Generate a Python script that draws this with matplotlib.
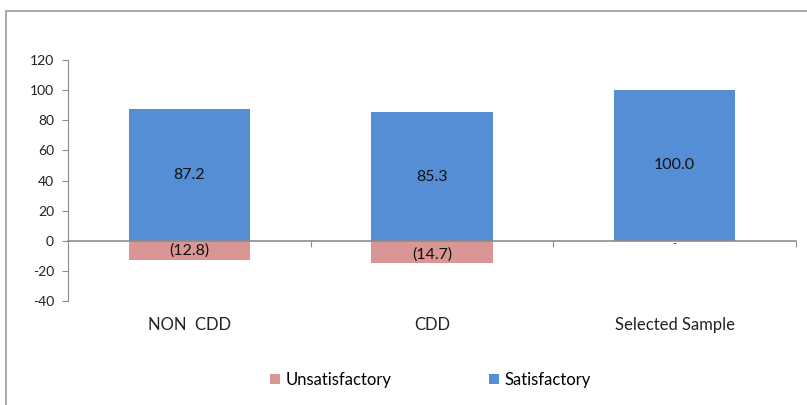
import matplotlib
matplotlib.use("Agg")
import matplotlib.pyplot as plt
from matplotlib.patches import Rectangle
from matplotlib.transforms import blended_transform_factory

categories = ["NON  CDD", "CDD", "Selected Sample"]
satisfactory = [87.2, 85.3, 100.0]
unsatisfactory = [-12.8, -14.7, 0.0]
yticks = [-40, -20, 0, 20, 40, 60, 80, 100, 120]

blue = "#558ED5"
pink = "#D99694"
gray = "#8C8C8C"
plt.rcParams['font.family'] = ['Lato', 'DejaVu Sans']

W, H = 807, 405
fig = plt.figure(figsize=(W/100, H/100), dpi=100)

# outer chart frame
fig.patches.append(Rectangle((6/W, -0.2), 1.2, 1.2 - 11/H, transform=fig.transFigure,
                             fill=False, edgecolor="#999999", linewidth=1.2))

ax = fig.add_axes([68/W, 1-301/H, (796-68)/W, (301-60)/H])
x = list(range(len(categories)))
ax.bar(x, satisfactory, width=0.5, color=blue, label="Satisfactory", zorder=2)
ax.bar(x, unsatisfactory, width=0.5, color=pink, label="Unsatisfactory", zorder=2)

ax.set_xlim(-0.5, 2.5)
ax.set_ylim(-40, 120)
ax.set_yticks(yticks)
ax.set_yticklabels([str(t) for t in yticks], fontsize=10, color="#222222")
for s in ["top", "right"]:
    ax.spines[s].set_visible(False)
ax.spines['left'].set_color(gray)
ax.spines['bottom'].set_position(('data', 0))
ax.spines['bottom'].set_color(gray)
ax.spines['bottom'].set_linewidth(1.2)
ax.spines['bottom'].set_zorder(3)
ax.set_xticks([-0.5, 0.5, 1.5, 2.5])
ax.set_xticklabels([])
ax.tick_params(axis='x', direction='out', length=4, color=gray)
ax.tick_params(axis='y', direction='out', length=4, color=gray, pad=6)

tr = blended_transform_factory(ax.transData, ax.transAxes)
for i, c in enumerate(categories):
    ax.text(i, -0.1, c, transform=tr, ha='center', va='center', fontsize=12, color="#222222")

def fmt(v):
    if v == 0:
        return "-"
    if v < 0:
        return "({:.1f})".format(-v)
    return "{:.1f}".format(v)

for i, (s, u) in enumerate(zip(satisfactory, unsatisfactory)):
    ax.text(i, s/2, fmt(s), ha='center', va='center', fontsize=11.5, color="#111111", zorder=4)
    if u == 0:
        ax.text(i, -2, fmt(u), ha='center', va='center', fontsize=8, color="#333333", zorder=4)
    else:
        ax.text(i, u/2 + (-2 if u < -14 else 0), fmt(u), ha='center', va='center', fontsize=11.5, color="#111111", zorder=4)

h, l = ax.get_legend_handles_labels()
leg = fig.legend(h[::-1], l[::-1], loc='center', bbox_to_anchor=(0.5335, 1-380/H), ncol=2,
                 frameon=False, fontsize=12, handlelength=0.6, handleheight=0.6,
                 columnspacing=5.8, handletextpad=0.35)

fig.savefig("out.png", dpi=100)
